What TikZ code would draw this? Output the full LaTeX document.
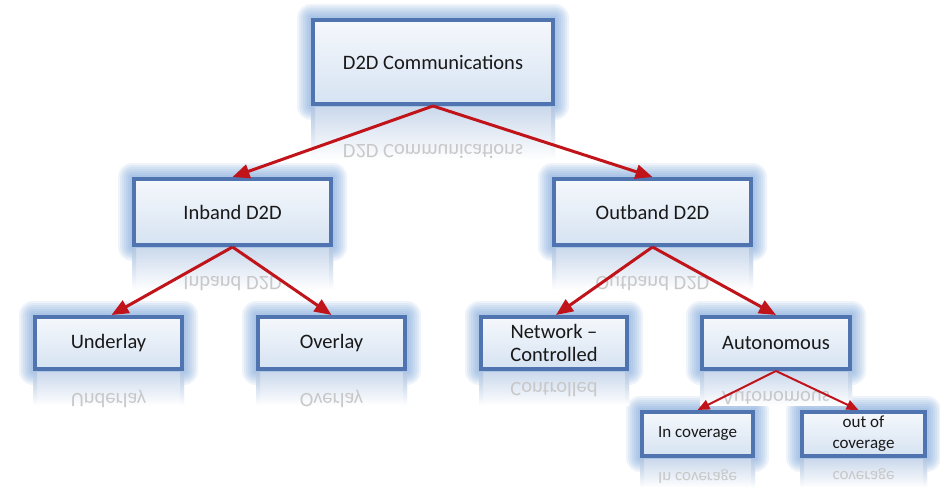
\documentclass[tikz,border=0pt]{standalone}
\usepackage{fontspec}
\setmainfont{Carlito}
\usetikzlibrary{arrows.meta}
\pgfdeclarelayer{bg}
\pgfdeclarelayer{glow}
\pgfdeclarelayer{refl}
\pgfsetlayers{bg,glow,refl,main}
\definecolor{bordc}{HTML}{4F74B0}
\definecolor{glowc}{HTML}{6D9BD8}
\definecolor{reflc}{HTML}{CBD9EC}
\definecolor{refls}{HTML}{B3C7E2}
\definecolor{filltop}{HTML}{F5F8FC}
\definecolor{fillbot}{HTML}{D6E3F2}
\definecolor{arrc}{HTML}{C0141A}
\definecolor{refltxt}{HTML}{C8C8C8}
\tikzset{
  dbox/.style={draw=bordc, line width=4pt, top color=filltop, bottom color=fillbot,
    inner sep=2pt, align=center, text=black!90},
  bigtxt/.style={font=\fontsize{20.5pt}{23pt}\selectfont},
  smalltxt/.style={font=\fontsize{17pt}{21pt}\selectfont},
  arr/.style={draw=arrc, line width=3pt, -{Triangle[length=17pt,width=14pt]}},
  arrsmall/.style={draw=arrc, line width=2pt, -{Triangle[length=12pt,width=10pt]}},
  rtext/.style={text=refltxt, inner sep=0pt}
}
% name, cx, cy, w, h, text, font style, reflected text, reflected y
\newcommand\dtdbox[9]{%
  \node[dbox, #7, minimum width={#4pt-4pt}, minimum height={#5pt-4pt}] (#1) at (#2,#3) {#6};
  \begin{pgfonlayer}{glow}
    \foreach \d in {2,4,...,14}{
      \fill[glowc, opacity=0.11, rounded corners=\d pt]
        ([shift={(-\d pt,\d pt)}]#1.north west) rectangle ([shift={(\d pt,-\d pt)}]#1.south east);
    }
  \end{pgfonlayer}
  \begin{pgfonlayer}{refl}
    \shade[top color=reflc, bottom color=white]
      ([yshift=-1pt]#1.south west) rectangle ([yshift={-1pt-0.6*#5pt}]#1.south east);
    \shade[top color=refls, bottom color=white]
      ([yshift=-1pt]#1.south west) rectangle ([shift={(4pt,-1pt-0.6*#5pt)}]#1.south west);
    \shade[top color=refls, bottom color=white]
      ([shift={(-4pt,-1pt)}]#1.south east) rectangle ([yshift={-1pt-0.6*#5pt}]#1.south east);
    \node[rtext, #7] (#1-r) at (#2,#9) {\scalebox{1}[-1]{#8}};
  \end{pgfonlayer}
}
\begin{document}
\begin{tikzpicture}[x=1pt,y=-1pt]
\useasboundingbox (0,0) rectangle (940,487);
\begin{pgfonlayer}{bg}
\fill[white] (0,0) rectangle (940,487);
\end{pgfonlayer}

\dtdbox{d2d}{433}{62}{244}{88}{D2D Communications}{bigtxt}{D2D Communications}{152}
\dtdbox{inband}{232.5}{212}{201}{70}{Inband D2D}{bigtxt}{Inband D2D}{284}
\dtdbox{outband}{652.5}{212}{201}{70}{Outband D2D}{bigtxt}{Outband D2D}{284}
\dtdbox{under}{108.5}{343}{151}{56}{Underlay}{bigtxt}{Underlay}{399}
\dtdbox{over}{331.5}{343}{151}{56}{Overlay}{bigtxt}{Overlay}{399}
\dtdbox{netc}{554}{343}{150}{56}{Network --\\Controlled}{bigtxt}{Controlled}{390}
\dtdbox{auton}{776}{343}{152}{56}{Autonomous}{bigtxt}{Autonomous}{398}
\dtdbox{incov}{697.5}{434}{115}{48}{In coverage}{smalltxt}{In coverage}{476}
\dtdbox{outcov}{863.5}{434}{127}{48}{out of\\coverage}{smalltxt}{coverage}{474}

\draw[arr] (d2d.south) -- (inband.north);
\draw[arr] (d2d.south) -- (outband.north);
\draw[arr] (inband.south) -- ([xshift=3pt]under.north);
\draw[arr] (inband.south) -- (over.north);
\draw[arr] (outband.south) -- ([xshift=2pt]netc.north);
\draw[arr] (outband.south) -- (auton.north);
\draw[arrsmall] (auton.south) -- (incov.north);
\draw[arrsmall] (auton.south) -- ([xshift=-5pt]outcov.north);
\end{tikzpicture}
\end{document}
